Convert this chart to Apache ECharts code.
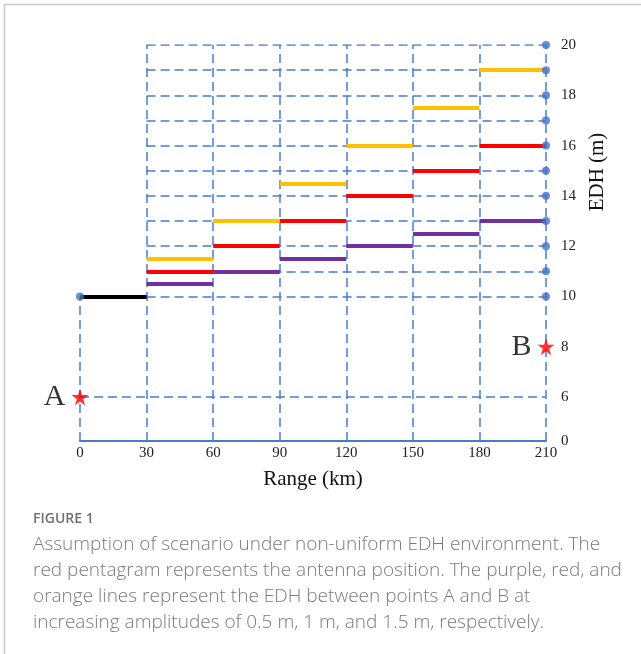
<!DOCTYPE html>
<html>
<head>
    <meta charset="utf-8">
    <title>EDH scenario</title>
    <style type="text/css">
        html, body { margin: 0; padding: 0; background: #fff; }
        #main { width: 641px; height: 654px; }
    </style>
</head>
<body>
<div id="main"></div>
<script type="text/javascript" src="https://cdn.jsdelivr.net/npm/echarts@6/dist/echarts.min.js"></script>
<script type="text/javascript">
    // x ticks (km)
    var xTicks = [0, 30, 60, 90, 120, 150, 180, 210];
    // y axis is broken: the bottom "0" sits at yFloor
    var yFloor = 4.25;
    var yTickVals = [6, 8, 10, 12, 14, 16, 18, 20];
    var gridLevels = [10, 11, 12, 13, 14, 15, 16, 17, 18, 19, 20];
    // EDH steps per 30 km, starting at 30 km
    var baseLevel = 10;
    var purpleLevels = [10.5, 11, 11.5, 12, 12.5, 13];
    var redLevels = [11, 12, 13, 14, 15, 16];
    var orangeLevels = [11.5, 13, 14.5, 16, 17.5, 19];
    var antennaA = [0, 6];
    var antennaB = [210, 8];

    var blue = '#4a7ad0';
    var serif = '"Liberation Serif", "DejaVu Serif", serif';
    var starPath = 'path://M50,0 L61,35 L98,35 L68,57 L79,91 L50,70 L21,91 L32,57 L2,35 L39,35 Z';

    // dashed guide lines
    var guides = [];
    guides.push({coords: [[0, yFloor], [0, baseLevel]]});
    guides.push({coords: [[0, antennaA[1]], [210, antennaA[1]]]});
    for (var i = 1; i < xTicks.length; i++) {
        guides.push({coords: [[xTicks[i], yFloor], [xTicks[i], 20]]});
    }
    gridLevels.forEach(function (lv) {
        guides.push({coords: [[30, lv], [210, lv]]});
    });

    function steps(levels) {
        return levels.map(function (lv, k) {
            return {coords: [[xTicks[k + 1], lv], [xTicks[k + 2], lv]]};
        });
    }

    function segSeries(name, levels, color) {
        return {
            name: name,
            type: 'lines',
            coordinateSystem: 'cartesian2d',
            data: steps(levels),
            lineStyle: {color: color, width: 4, opacity: 1},
            silent: true,
            z: 5
        };
    }

    var dots = gridLevels.map(function (lv) { return [210, lv]; });
    dots.push([0, baseLevel]);

    var chart = echarts.init(document.getElementById('main'));
    chart.setOption({
        backgroundColor: '#fff',
        animation: false,
        grid: {left: 80, right: 95, top: 45, bottom: 213},
        xAxis: {
            type: 'value',
            min: 0, max: 210, interval: 30,
            name: 'Range (km)',
            nameLocation: 'middle',
            nameGap: 28,
            nameTextStyle: {fontFamily: serif, fontSize: 21, color: '#111'},
            axisLine: {show: true, lineStyle: {color: blue, width: 2}},
            axisTick: {show: false},
            splitLine: {show: false},
            axisLabel: {fontFamily: serif, fontSize: 15, color: '#222', margin: 5}
        },
        yAxis: {
            type: 'value',
            position: 'right',
            min: yFloor, max: 20,
            axisLine: {show: false},
            axisTick: {show: false},
            splitLine: {show: false},
            axisLabel: {
                customValues: [yFloor].concat(yTickVals),
                fontFamily: serif, fontSize: 15, color: '#222', margin: 15,
                formatter: function (v) { return v < 5 ? '0' : String(v); }
            }
        },
        series: [
            {
                type: 'lines',
                coordinateSystem: 'cartesian2d',
                data: guides,
                lineStyle: {color: blue, width: 1.5, type: [9, 5], opacity: 1},
                silent: true,
                z: 2
            },
            {
                type: 'lines',
                coordinateSystem: 'cartesian2d',
                data: [{coords: [[0, baseLevel], [30, baseLevel]]}],
                lineStyle: {color: '#000', width: 4, opacity: 1},
                silent: true,
                z: 5
            },
            segSeries('0.5 m', purpleLevels, '#7030a0'),
            segSeries('1 m', redLevels, '#ff0000'),
            segSeries('1.5 m', orangeLevels, '#ffc000'),
            {
                type: 'scatter',
                data: dots,
                symbolSize: 8,
                itemStyle: {color: '#4472c4'},
                silent: true,
                z: 6
            },
            {
                type: 'scatter',
                data: [
                    {value: antennaA, label: {formatter: 'A'}},
                    {value: antennaB, label: {formatter: 'B'}}
                ],
                symbol: starPath,
                symbolSize: 17,
                itemStyle: {color: '#ff0000'},
                label: {
                    show: true, position: 'left', distance: 6,
                    fontFamily: serif, fontSize: 30, color: '#000'
                },
                silent: true,
                z: 7
            }
        ],
        graphic: [
            {
                type: 'rect', silent: true,
                shape: {x: 4.5, y: 4.5, width: 700, height: 700},
                style: {fill: null, stroke: '#c8c8c8', lineWidth: 1.5}
            },
            {
                type: 'text', x: 597, y: 172, rotation: Math.PI / 2,
                style: {
                    text: 'EDH (m)', font: '21px ' + serif, fill: '#111',
                    align: 'center', verticalAlign: 'middle'
                }
            },
            {
                type: 'text', left: 33, top: 512,
                style: {text: 'FIGURE 1', font: '600 14px "Open Sans"', fill: '#707070'}
            },
            {
                type: 'text', left: 33, top: 532,
                style: {
                    text: 'Assumption of scenario under non-uniform EDH environment. The\n' +
                          'red pentagram represents the antenna position. The purple, red, and\n' +
                          'orange lines represent the EDH between points A and B at\n' +
                          'increasing amplitudes of 0.5 m, 1 m, and 1.5 m, respectively.',
                    font: '300 19px "Open Sans"', fill: '#7a7a7a', lineHeight: 26
                }
            }
        ]
    });
</script>
</body>
</html>
